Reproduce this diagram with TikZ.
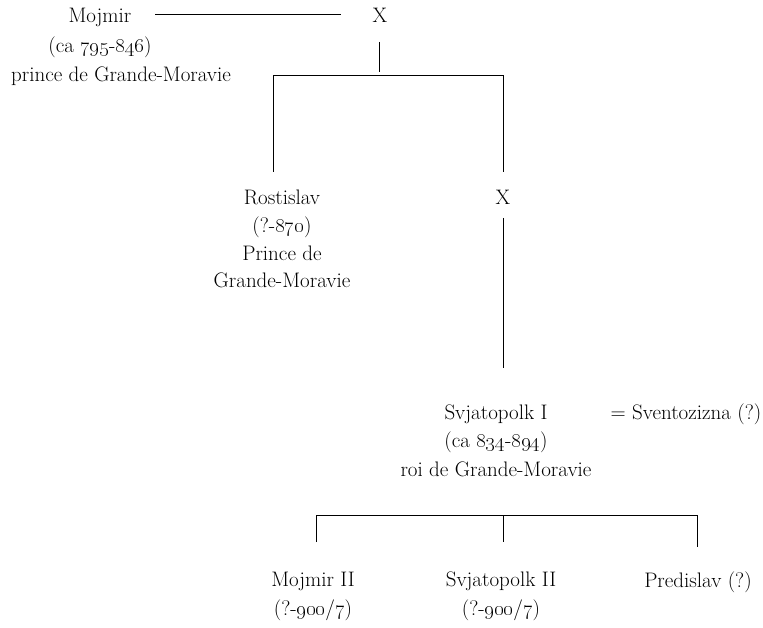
\documentclass[tikz,border=0pt]{standalone}
\newcommand{\osn}[1]{\oldstylenums{#1}}
\begin{document}
\begin{tikzpicture}[x=1pt,y=-1pt,
  person/.style={align=center,inner sep=0pt,anchor=base,font=\fontsize{21}{#1}\selectfont},
  person/.default=29,
  link/.style={line width=0.9pt,line cap=butt}]
\useasboundingbox (0,0) rectangle (763,628);
% people (anchor = baseline of last line)
\node[person=29.5] (mojmir) at (100,82) {Mojmir\\(ca \osn{795}-\osn{846})\\\hspace*{42pt}prince de Grande-Moravie};
\node[person] (x1) at (380,23) {X};
\node[person=27.7] (rostislav) at (282,288) {Rostislav\\(?-\osn{870})\\Prince de\\Grande-Moravie};
\node[person] (x2) at (503,205) {X};
\node[person=28.5] (svjatopolk) at (496,476) {Svjatopolk I\\(ca \osn{834}-\osn{894})\\roi de Grande-Moravie};
\node[person] (sventozizna) at (686,419) {= Sventozizna (?)};
\node[person=29] (mojmir2) at (313,615) {Mojmir II\\(?-\osn{900}/\osn{7})};
\node[person=29] (svjatopolk2) at (501,615) {Svjatopolk II\\(?-\osn{900}/\osn{7})};
\node[person] (predislav) at (698,587) {Predislav (?)};
% coordinates
\coordinate (m1) at (155,14);
\coordinate (m2) at (341,14);
\coordinate (xa) at (379,42);
\coordinate (xb) at (379,72);
\coordinate (bl) at (273,75);
\coordinate (br) at (503,75);
\coordinate (rl) at (273,172);
\coordinate (rr) at (503,172);
\coordinate (sa) at (503,218);
\coordinate (sb) at (503,368);
\coordinate (cl) at (316,515);
\coordinate (cm) at (503,515);
\coordinate (cr) at (697,515);
\coordinate (dl) at (316,542);
\coordinate (dm) at (503,542);
\coordinate (dr) at (697,547);
% connectors
\draw[link] (m1) -- (m2);
\draw[link] (xa) -- (xb);
\draw[link] (rl) -- (bl) -- (br) -- (rr);
\draw[link] (sa) -- (sb);
\draw[link] (dl) -- (cl) -- (cr) -- (dr);
\draw[link] (cm) -- (dm);
\end{tikzpicture}
\end{document}
